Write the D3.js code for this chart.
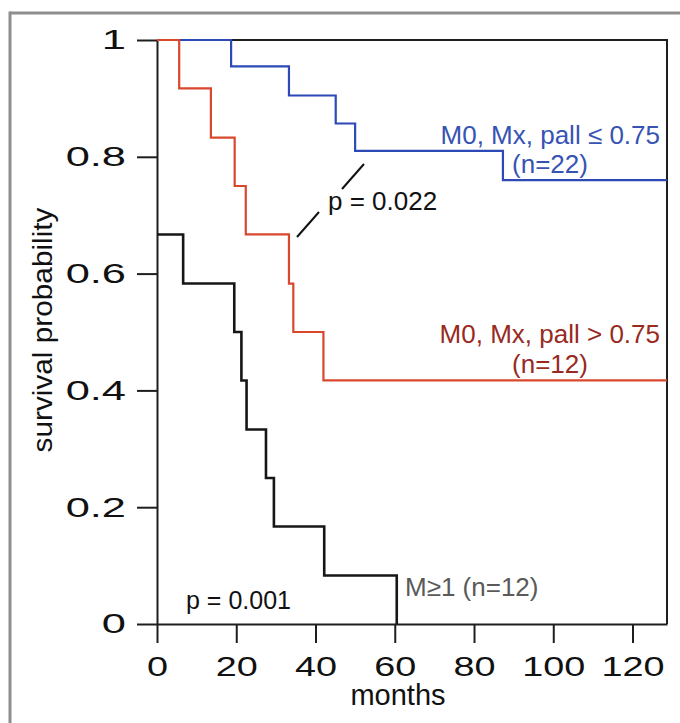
<!DOCTYPE html>
<html>
<head>
<meta charset="utf-8">
<script src="https://cdn.jsdelivr.net/npm/d3@7"></script>
<style>
html,body{margin:0;padding:0;background:#fff;}
svg text{font-family:"Liberation Sans",Arial,sans-serif;}
</style>
</head>
<body>
<svg id="chart" width="680" height="723"></svg>
<script>
// ---- data ----
const xTicks = [0, 20, 40, 60, 80, 100, 120];
const yTicks = [0, 0.2, 0.4, 0.6, 0.8, 1];
const yTickLabels = ["0", "0.2", "0.4", "0.6", "0.8", "1"];

const blueMonths   = [0, 18.7, 33.3, 45.1, 50.0, 87.3, 128.7];
const blueSurv     = [1, 0.955, 0.905, 0.857, 0.81, 0.76, 0.76];

const redMonths    = [0, 5.6, 13.6, 19.6, 22.4, 33.3, 34.4, 42.0, 128.7];
const redSurv      = [1, 0.917, 0.833, 0.75, 0.667, 0.583, 0.5, 0.417, 0.417];

const blackMonths  = [0, 6.6, 19.5, 21.3, 22.6, 27.5, 29.5, 42.2, 60.5];
const blackSurv    = [0.667, 0.583, 0.5, 0.417, 0.333, 0.25, 0.167, 0.083, 0];

const seriesNames  = ["M≥1 (n=12)", "M0, Mx, pall ≤ 0.75", "M0, Mx, pall > 0.75"];
const pValues      = ["p = 0.022", "p = 0.001"];

// ---- layout ----
const svg = d3.select("#chart");
const x = d3.scaleLinear().domain([0, 128.7]).range([157, 667]);
const y = d3.scaleLinear().domain([0, 1]).range([624, 40]);
const fs = 26;

// outer gray frame
svg.append("line").attr("x1", 10).attr("x2", 680).attr("y1", 13).attr("y2", 13)
  .attr("stroke", "#8e8e8e").attr("stroke-width", 3);
svg.append("line").attr("x1", 10).attr("x2", 10).attr("y1", 11.5).attr("y2", 723)
  .attr("stroke", "#8e8e8e").attr("stroke-width", 3);

const axisColor = "#1e1e1e";
// box top & right
svg.append("path")
  .attr("d", `M${x(0)},${y(1)}H${x.range()[1]}V${y(0)}`)
  .attr("fill", "none").attr("stroke", axisColor).attr("stroke-width", 2);

function stretch(k) {
  return sel => sel.each(function () {
    const w = this.getComputedTextLength();
    d3.select(this).attr("textLength", w * k).attr("lengthAdjust", "spacingAndGlyphs");
  });
}

// left axis
const gy = svg.append("g").attr("transform", `translate(${x(0)},0)`)
  .call(d3.axisLeft(y).tickValues(yTicks).tickSize(20).tickSizeOuter(0).tickPadding(11)
    .tickFormat((d, i) => yTickLabels[i]));
gy.select(".domain").attr("stroke", axisColor).attr("stroke-width", 2);
gy.selectAll(".tick line").attr("stroke", axisColor).attr("stroke-width", 2);
gy.selectAll(".tick text").attr("font-size", 28).attr("fill", "#111")
  .attr("font-family", "Liberation Sans, Arial, sans-serif").call(stretch(1.55));

// bottom axis
const gx = svg.append("g").attr("transform", `translate(0,${y(0)})`)
  .call(d3.axisBottom(x).tickValues(xTicks).tickSize(19).tickSizeOuter(0).tickPadding(13));
gx.select(".domain").attr("stroke", axisColor).attr("stroke-width", 2);
gx.selectAll(".tick line").attr("stroke", axisColor).attr("stroke-width", 2);
gx.selectAll(".tick text").attr("font-size", 28).attr("fill", "#111")
  .attr("font-family", "Liberation Sans, Arial, sans-serif").call(stretch(1.35));

// axis titles
svg.append("text").attr("x", 398).attr("y", 705).attr("text-anchor", "middle")
  .attr("font-size", 29).attr("fill", "#111").text("months");
svg.append("text").attr("transform", "translate(52,330) rotate(-90)")
  .attr("text-anchor", "middle").attr("font-size", 27).attr("fill", "#111")
  .attr("textLength", 245).attr("lengthAdjust", "spacingAndGlyphs")
  .text("survival probability");

// curves
const line = d3.line().x(d => x(d[0])).y(d => y(d[1])).curve(d3.curveStepAfter);
function draw(months, surv, color, w) {
  svg.append("path").datum(months.map((m, i) => [m, surv[i]]))
    .attr("d", line).attr("fill", "none").attr("stroke", color).attr("stroke-width", w);
}
draw(blackMonths, blackSurv, "#161616", 2.6);
draw(blueMonths, blueSurv, "#2c49b6", 2.2);
draw(redMonths, redSurv, "#d9472c", 2.2);

// labels
svg.append("text").attr("x", 660).attr("y", 144).attr("text-anchor", "end")
  .attr("font-size", fs).attr("fill", "#3753b3").text(seriesNames[1]);
svg.append("text").attr("x", 550).attr("y", 173).attr("text-anchor", "middle")
  .attr("font-size", fs).attr("fill", "#3753b3").text("(n=22)");
svg.append("text").attr("x", 660).attr("y", 343).attr("text-anchor", "end")
  .attr("font-size", fs).attr("fill", "#982a1f").text(seriesNames[2]);
svg.append("text").attr("x", 550).attr("y", 373).attr("text-anchor", "middle")
  .attr("font-size", fs).attr("fill", "#982a1f").text("(n=12)");
svg.append("text").attr("x", 405).attr("y", 596)
  .attr("font-size", fs).attr("fill", "#5a5a5a").text(seriesNames[0]);
svg.append("text").attr("x", 328).attr("y", 210)
  .attr("font-size", fs).attr("fill", "#111").text(pValues[0]);
svg.append("text").attr("x", 186).attr("y", 609)
  .attr("font-size", 25).attr("fill", "#111").text(pValues[1]);

// p-value leader lines
svg.append("line").attr("x1", 297).attr("y1", 237).attr("x2", 319).attr("y2", 212)
  .attr("stroke", "#111").attr("stroke-width", 2);
svg.append("line").attr("x1", 342).attr("y1", 189).attr("x2", 364).attr("y2", 164)
  .attr("stroke", "#111").attr("stroke-width", 2);
</script>
</body>
</html>
